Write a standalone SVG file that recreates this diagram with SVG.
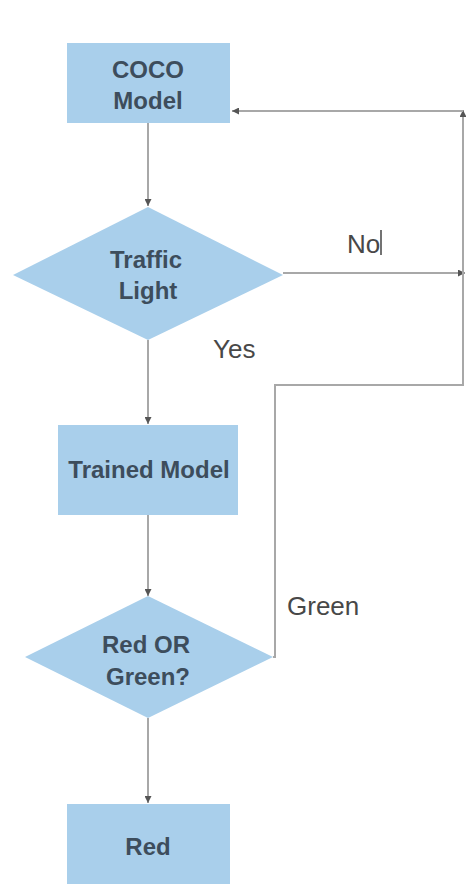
<svg xmlns="http://www.w3.org/2000/svg" width="466" height="884" viewBox="0 0 466 884">
<style>
.node{fill:#a9cfeb;}
.nt{font-family:"Liberation Sans",Arial,sans-serif;font-size:24px;font-weight:bold;fill:#3d4d5c;text-anchor:middle;}
.lbl{font-family:"Liberation Sans",Arial,sans-serif;font-size:26px;fill:#484848;}
.ln{fill:none;stroke:#a8a8a8;stroke-width:2;}
</style>
<defs>
<marker id="ah" viewBox="0 0 10 10" refX="10" refY="5" markerWidth="3.5" markerHeight="3.5" orient="auto" markerUnits="strokeWidth">
<path d="M0,0 L10,5 L0,10 z" fill="#555"/>
</marker>
</defs>
<rect width="466" height="884" fill="#fff"/>
<g id="connectors">
<line class="ln" x1="148" y1="123" x2="148" y2="206" marker-end="url(#ah)"/>
<line class="ln" x1="148" y1="340" x2="148" y2="424" marker-end="url(#ah)"/>
<line class="ln" x1="148" y1="515" x2="148" y2="596" marker-end="url(#ah)"/>
<line class="ln" x1="148" y1="718" x2="148" y2="803" marker-end="url(#ah)"/>
<line class="ln" x1="283" y1="273" x2="465" y2="273" marker-end="url(#ah)"/>
<polyline class="ln" points="273,657 275,657 275,385 463,385 463,110" marker-end="url(#ah)"/>
<line class="ln" x1="463" y1="111" x2="232" y2="111" marker-end="url(#ah)"/>
</g>
<g id="coco">
<rect class="node" x="67" y="43" width="163" height="80"/>
<text class="nt" x="148" y="78">COCO</text>
<text class="nt" x="148" y="109">Model</text>
</g>
<g id="traffic">
<polygon class="node" points="148,207 283,275 148,340 13,275"/>
<text class="nt" x="146" y="268">Traffic</text>
<text class="nt" x="148" y="299">Light</text>
</g>
<g id="trained">
<rect class="node" x="58" y="425" width="180" height="90"/>
<text class="nt" x="149" y="478">Trained Model</text>
</g>
<g id="redorgreen">
<polygon class="node" points="148,596 273,657 148,718 25,657"/>
<text class="nt" x="146" y="653">Red OR</text>
<text class="nt" x="148" y="685">Green?</text>
</g>
<g id="red">
<rect class="node" x="67" y="804" width="163" height="80"/>
<text class="nt" x="148" y="855">Red</text>
</g>
<g id="labels">
<text class="lbl" x="347" y="253">No</text>
<line x1="381" y1="230" x2="381" y2="255" stroke="#444" stroke-width="1.5"/>
<text class="lbl" x="213" y="358">Yes</text>
<text class="lbl" x="287" y="615">Green</text>
</g>
</svg>
